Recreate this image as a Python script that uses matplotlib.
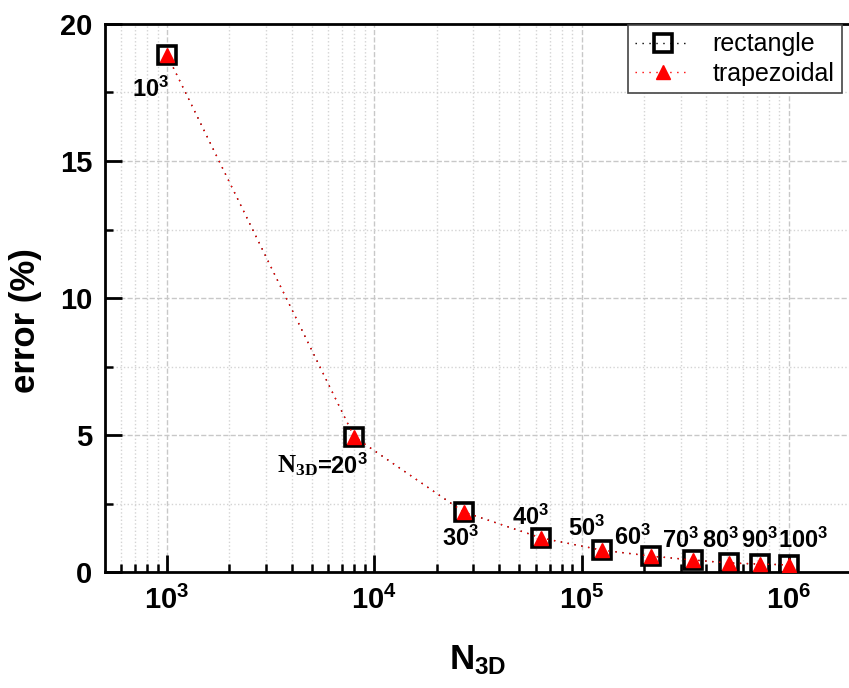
import numpy as np
import matplotlib
matplotlib.use('Agg')
import matplotlib.pyplot as plt
from matplotlib.ticker import FixedLocator, FuncFormatter, LogLocator, NullFormatter

plt.rcParams['font.family'] = 'Liberation Sans'
plt.rcParams['font.weight'] = 'bold'
plt.rcParams['mathtext.fontset'] = 'custom'
plt.rcParams['mathtext.rm'] = 'Liberation Sans:bold'
plt.rcParams['mathtext.it'] = 'Liberation Sans:bold'
plt.rcParams['mathtext.bf'] = 'Liberation Sans:bold'
plt.rcParams['mathtext.tt'] = 'Liberation Serif:bold'

# grid sizes per dimension and total points N_3D = n^3
n_side = np.array([10, 20, 30, 40, 50, 60, 70, 80, 90, 100])
n3d = n_side ** 3
err_rect = [18.87, 4.93, 2.19, 1.24, 0.80, 0.58, 0.44, 0.33, 0.29, 0.26]
err_trap = [18.87, 4.93, 2.19, 1.24, 0.80, 0.58, 0.44, 0.33, 0.29, 0.26]
point_labels = [r'$10^{3}$', r'=20$^{3}$', r'$30^{3}$', r'$40^{3}$',
                r'$50^{3}$', r'$60^{3}$', r'$70^{3}$', r'$80^{3}$', r'$90^{3}$', r'$100^{3}$']
# label offsets (pixels) from each point
label_off = [(-17, -34), (-12, -29), (-3, -26), (-11, 21), (-15, 22),
             (-18, 19), (-12, 20), (-8, 23), (-1, 24), (14, 25)]

fig = plt.figure(figsize=(8.49, 6.88), dpi=100)
ax = fig.add_axes([105/849, 116/688, 745/849, 548/688])

dots = (0, (1, 4))
ax.plot(n3d, err_rect, linestyle=dots, color='black', lw=1.0, marker='s', ms=13,
        mfc='none', mec='black', mew=2.6, label='rectangle', zorder=3)
ax.plot(n3d, err_trap, linestyle=dots, color='red', lw=1.0, marker='^', ms=10,
        mfc='red', mec='red', label='trapezoidal', zorder=4)

for x, y, s, (dx, dy) in zip(n3d, err_rect, point_labels, label_off):
    ax.annotate(s, (x, y), xytext=(dx, dy), textcoords='offset pixels',
                ha='center', va='center', fontsize=17, fontweight='bold')
# serif "N_3D" in front of "=20^3"
ax.annotate(r'$\mathtt{N_{3D}}$', (n3d[1], err_rect[1]), xytext=(-37, -29),
            textcoords='offset pixels', ha='right', va='center', fontsize=18)

ax.set_xscale('log')
ax.set_xlim(10**2.7005, 10**6.2947)
ax.set_ylim(0, 20)

ax.xaxis.set_major_locator(FixedLocator([1e3, 1e4, 1e5, 1e6]))
ax.xaxis.set_major_formatter(FuncFormatter(lambda v, p: r'$10^{%d}$' % round(np.log10(v))))
ax.xaxis.set_minor_locator(LogLocator(base=10, subs=np.arange(2, 10)))
ax.xaxis.set_minor_formatter(NullFormatter())
ax.set_yticks([0, 5, 10, 15, 20])
ax.set_yticks([2.5, 7.5, 12.5, 17.5], minor=True)

ax.tick_params(which='major', direction='in', length=12, width=2, labelsize=21, pad=10)
ax.tick_params(which='minor', direction='in', length=6, width=1.8)
ax.tick_params(axis='y', which='major', pad=9)

for sp in ax.spines.values():
    sp.set_linewidth(2)

ax.grid(which='major', linestyle='--', color='#c8c8c8', lw=1)
ax.grid(which='minor', linestyle=':', color='#d4d4d4', lw=1)
ax.set_axisbelow(True)

ax.set_ylabel('error (%)', fontsize=25, fontweight='bold')
ax.yaxis.set_label_coords(-0.085, 0.458)
ax.set_xlabel(r'$\mathrm{N_{3D}}$', fontsize=25, labelpad=20)

leg = ax.legend(loc='upper right', bbox_to_anchor=(842/849, 1 - 25/688),
                bbox_transform=fig.transFigure, borderaxespad=0, fancybox=False,
                framealpha=1, edgecolor='#444444', numpoints=1, handlelength=2.2,
                prop={'family': 'Liberation Sans', 'weight': 'normal', 'size': 18},
                borderpad=0.3, labelspacing=0.2, handletextpad=0.9)
leg.get_frame().set_linewidth(1.2)

fig.savefig('out.png', dpi=100)
